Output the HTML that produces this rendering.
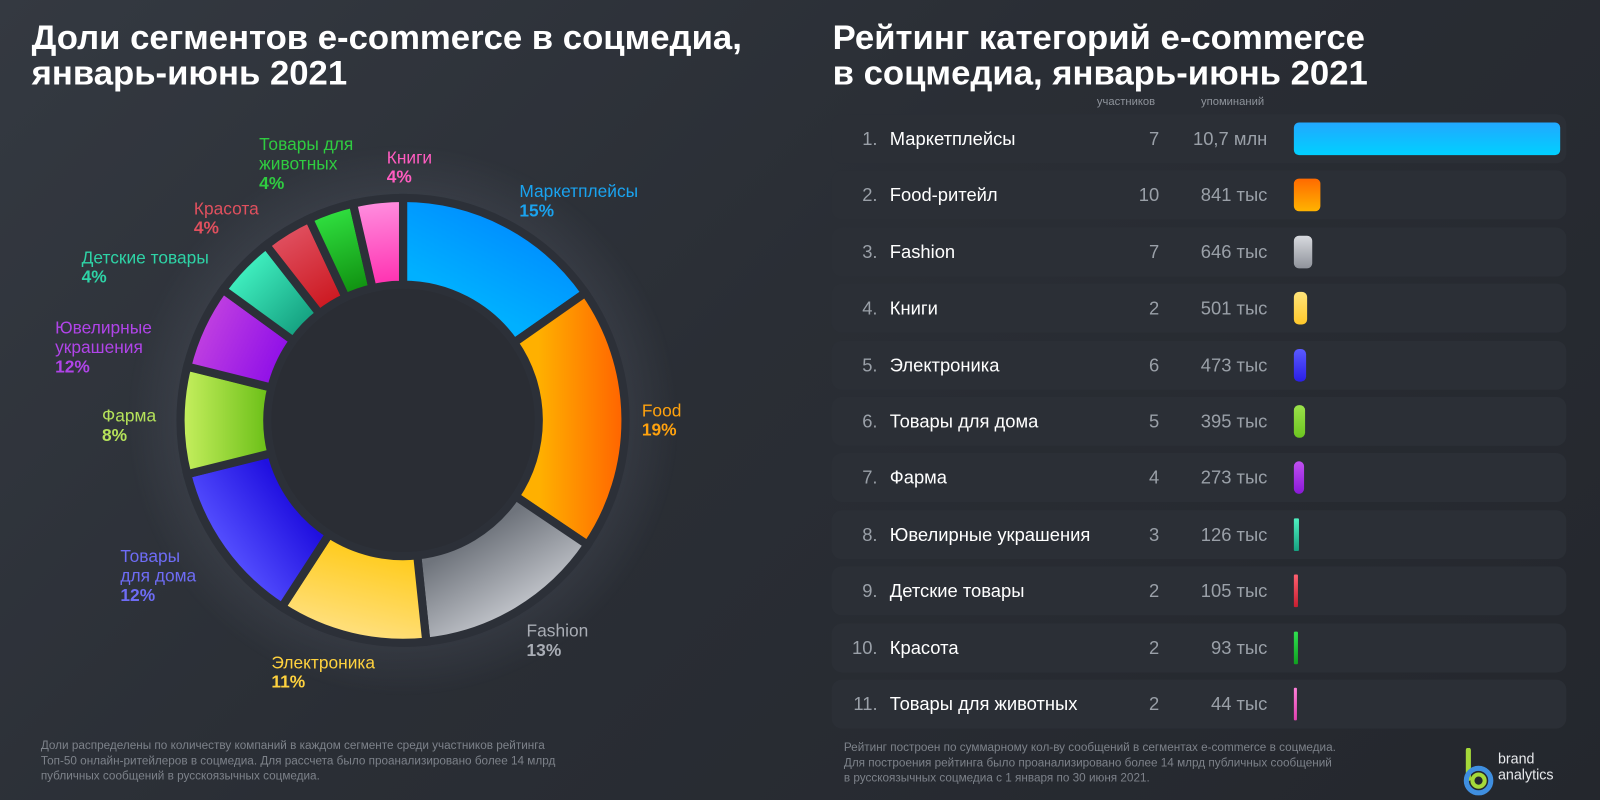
<!DOCTYPE html>
<html><head><meta charset="utf-8"><style>
html,body{margin:0;padding:0}
body{width:1600px;height:800px;overflow:hidden;position:relative;font-family:"Liberation Sans",sans-serif;
background:linear-gradient(135deg,#343941 0%,#2a2e35 45%,#24272d 100%);color:#fff}
#wrap{position:absolute;left:0;top:0;width:1568px;height:784px;transform:scale(1.0204);transform-origin:0 0}
.t{position:absolute;font-weight:bold;font-size:34px;line-height:35px;color:#fff;white-space:nowrap}
.lb{position:absolute;font-size:17px;line-height:19px;white-space:nowrap}
.lb b{font-weight:bold}
.row{position:absolute;left:815px;width:720px;height:48px;border-radius:10px;background:#2b2f36}
.row span{position:absolute;top:14px;font-size:18px;line-height:20px;white-space:nowrap}
.nm{left:57px;color:#fff}
.bar{position:absolute;left:453px;top:8px;height:32px;border-radius:5px}
.hd{position:absolute;top:94px;font-size:11px;color:#8e939b}
.ft{position:absolute;font-size:11.5px;line-height:15px;color:#7d828a;white-space:nowrap}
</style></head><body><div id="wrap">
<div class="t" style="left:31px;top:20px">Доли сегментов e-commerce в соцмедиа,</div>
<div class="t" style="left:31px;top:55px">январь-июнь 2021</div>
<div class="t" style="left:816px;top:20px">Рейтинг категорий e-commerce</div>
<div class="t" style="left:816px;top:55px">в соцмедиа, январь-июнь 2021</div>

<svg width="800" height="700" style="position:absolute;left:0;top:0" id="d">
<defs>
<radialGradient id="glow"><stop offset="0.75" stop-color="#6b7080" stop-opacity="0.22"/><stop offset="1" stop-color="#6b7080" stop-opacity="0"/></radialGradient>
</defs>
<circle cx="395" cy="412" r="270" fill="url(#glow)"/>
<circle cx="395" cy="412" r="135" fill="#2a2d34"/>
<g id="segs"></g>
</svg>

<div class="lb" style="left:509px;top:178px;color:#1aa3ef">Маркетплейсы<br><b>15%</b></div>
<div class="lb" style="left:629px;top:393px;color:#ffa20e">Food<br><b>19%</b></div>
<div class="lb" style="left:516px;top:609px;color:#a9adb5">Fashion<br><b>13%</b></div>
<div class="lb" style="left:266px;top:640px;color:#ffd23e">Электроника<br><b>11%</b></div>
<div class="lb" style="left:118px;top:536px;color:#6e6cf5">Товары<br>для дома<br><b>12%</b></div>
<div class="lb" style="left:100px;top:398px;color:#b5e25a">Фарма<br><b>8%</b></div>
<div class="lb" style="left:54px;top:312px;color:#b044e8">Ювелирные<br>украшения<br><b>12%</b></div>
<div class="lb" style="left:80px;top:243px;color:#2ed3a6">Детские товары<br><b>4%</b></div>
<div class="lb" style="left:190px;top:195px;color:#e0505e">Красота<br><b>4%</b></div>
<div class="lb" style="left:254px;top:132px;color:#2fcc40">Товары для<br>животных<br><b>4%</b></div>
<div class="lb" style="left:379px;top:145px;color:#ff5cc0">Книги<br><b>4%</b></div>

<div class="ft" style="left:40px;top:724px">Доли распределены по количеству компаний в каждом сегменте среди участников рейтинга<br>Топ-50 онлайн-ритейлеров в соцмедиа. Для рассчета было проанализировано более 14 млрд<br>публичных сообщений в русскоязычных соцмедиа.</div>

<div class="hd" style="left:1075px">участников</div>
<div class="hd" style="left:1177px">упоминаний</div>
<div id="rows"></div>

<div class="ft" style="left:827px;top:726px">Рейтинг построен по суммарному кол-ву  сообщений в сегментах e-commerce в соцмедиа.<br>Для построения рейтинга было проанализировано более 14 млрд публичных сообщений<br>в русскоязычных соцмедиа с 1 января по 30 июня 2021.</div>

<svg width="40" height="50" style="position:absolute;left:1430px;top:733px">
<path d="M9 2 V30" stroke="#a5d93a" stroke-width="5" fill="none" stroke-linecap="round"/>
<circle cx="19" cy="32" r="12" stroke="#3f8fe0" stroke-width="5" fill="none"/>
<circle cx="19" cy="32" r="6" stroke="#a5d93a" stroke-width="4" fill="none"/>
</svg>
<div style="position:absolute;left:1468px;top:735px;font-size:14px;line-height:16px;color:#e8eaed">brand<br>analytics</div>
</div>
<script>
var rows=[["1.","Маркетплейсы","7","10,7 млн",261,["#22a8ff","#00d0ff"]],
["2.","Food-ритейл","10","841 тыс",26,["#ff6a00","#ffb300"]],
["3.","Fashion","7","646 тыс",18,["#d8dadf","#8f939b"]],
["4.","Книги","2","501 тыс",13,["#ffe47a","#ffc82a"]],
["5.","Электроника","6","473 тыс",12,["#5a5aff","#2a1ee6"]],
["6.","Товары для дома","5","395 тыс",11,["#9be24a","#6cc520"]],
["7.","Фарма","4","273 тыс",10,["#c050f0","#8a18d8"]],
["8.","Ювелирные украшения","3","126 тыс",5,["#4ff0c0","#16a080"]],
["9.","Детские товары","2","105 тыс",4,["#ff6070","#c81e30"]],
["10.","Красота","2","93 тыс",4,["#30e050","#10a020"]],
["11.","Товары для животных","2","44 тыс",3,["#ff80d8","#e040b0"]]];
var h="";
rows.forEach(function(r,i){
 var top=112+i*55.4;
 h+='<div class="row" style="top:'+top+'px"><span style="left:0;width:45px;text-align:right;color:#9aa0a8">'+r[0]+'</span><span class="nm">'+r[1]+'</span><span style="left:0;width:321px;text-align:right;color:#9aa0a8">'+r[2]+'</span><span style="left:0;width:427px;text-align:right;color:#9aa0a8">'+r[3]+'</span><div class="bar" style="width:'+r[4]+'px;background:linear-gradient(180deg,'+r[5][0]+','+r[5][1]+')'+(r[4]<8?';border-radius:1px':'')+'"></div></div>';
});
document.getElementById("rows").innerHTML=h;

var cx=395,cy=412,R=218,ri=133;
var a=[0,55,124,174,213,256,284,306,322,335,347,360];
var cols=[["#0090ff","#00b0ff"],["#ff6200","#ffb000"],["#c0c3c9","#6f747c"],["#ffe080","#ffcc20"],["#5550ff","#2010e0"],["#c8f060","#6cc018"],["#c040e0","#9010e8"],["#40f0c0","#15a080"],["#e05060","#cc1820"],["#30e040","#109010"],["#ff90e0","#ff30b0"]];
var s="",defs="";
function pt(ang,r){var t=(ang-90)*Math.PI/180;return [cx+r*Math.cos(t),cy+r*Math.sin(t)];}
for(var i=0;i<11;i++){
 var a0=a[i],a1=a[i+1],m=(a0+a1)/2;
 var p1=pt(a0,R),p2=pt(a1,R),p3=pt(a1,ri),p4=pt(a0,ri),g1=pt(m,R),g2=pt(m,ri);
 var lg=(a1-a0)>180?1:0;
 defs+='<linearGradient id="g'+i+'" gradientUnits="userSpaceOnUse" x1="'+g1[0]+'" y1="'+g1[1]+'" x2="'+g2[0]+'" y2="'+g2[1]+'"><stop offset="0" stop-color="'+cols[i][0]+'"/><stop offset="1" stop-color="'+cols[i][1]+'"/></linearGradient>';
 s+='<path d="M'+p1+' A'+R+' '+R+' 0 '+lg+' 1 '+p2+' L'+p3+' A'+ri+' '+ri+' 0 '+lg+' 0 '+p4+' Z" fill="url(#g'+i+')" stroke="#2c3038" stroke-width="8" stroke-linejoin="miter"/>';
}
document.querySelector("#d defs").innerHTML+=defs;
document.getElementById("segs").innerHTML=s;
</script>
</body></html>
